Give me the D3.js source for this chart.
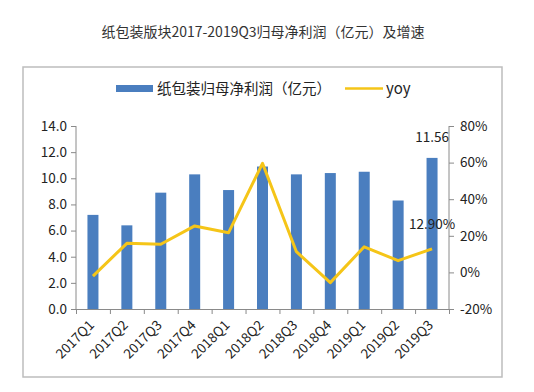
<!DOCTYPE html>
<html><head><meta charset="utf-8">
<script src="https://cdn.jsdelivr.net/npm/d3@7"></script>
<style>
html,body{margin:0;padding:0;background:#fff;}
svg text{font-family:"Noto Sans CJK SC","Open Sans",sans-serif;}
</style></head>
<body>
<svg id="c" width="534" height="392"></svg>
<script>
const categories = ["2017Q1","2017Q2","2017Q3","2017Q4","2018Q1","2018Q2","2018Q3","2018Q4","2019Q1","2019Q2","2019Q3"];
const profit = [7.2, 6.4, 8.9, 10.3, 9.1, 10.9, 10.3, 10.4, 10.5, 8.3, 11.56];
const yoy = [-2, 15.9, 15.4, 25.4, 21.7, 59.6, 11.3, -5.6, 14.0, 6.4, 12.9];
const leftTicks = [0,2,4,6,8,10,12,14];
const rightTicks = [-20,0,20,40,60,80];

const svg = d3.select("#c");
const L = 76, R = 449, T = 126, B = 309;

svg.append("text").attr("x",263).attr("y",37).attr("text-anchor","middle")
  .attr("font-size",14).attr("fill","#333").text("纸包装版块2017-2019Q3归母净利润（亿元）及增速");

svg.append("rect").attr("x",23).attr("y",67).attr("width",479).attr("height",310)
  .attr("fill","none").attr("stroke","#bdbdbd").attr("stroke-width",1.5);

// legend
svg.append("rect").attr("x",116).attr("y",85).attr("width",37).attr("height",7).attr("fill","#4a7ebf");
svg.append("text").attr("x",157).attr("y",94).attr("font-size",14.5).attr("fill","#222").text("纸包装归母净利润（亿元）");
svg.append("line").attr("x1",345).attr("x2",383).attr("y1",88.5).attr("y2",88.5).attr("stroke","#f5c518").attr("stroke-width",2.5);
svg.append("text").attr("x",386).attr("y",94).attr("font-size",15).attr("fill","#222").text("yoy");

const x = d3.scaleBand().domain(categories).range([L,R]);
const yL = d3.scaleLinear().domain([0,14]).range([B,T]);
const yR = d3.scaleLinear().domain([-20,80]).range([B,T]);

const bw = 11;
svg.append("g").selectAll("rect").data(categories).join("rect")
  .attr("x",(d)=>x(d)+x.bandwidth()/2-bw/2)
  .attr("width",bw)
  .attr("y",(d,i)=>yL(profit[i]))
  .attr("height",(d,i)=>B-yL(profit[i]))
  .attr("fill","#4a7ebf");

// axes
const axColor = "#8a8a8a";
const gl = svg.append("g").attr("transform",`translate(${L},0)`)
  .call(d3.axisLeft(yL).tickValues(leftTicks).tickFormat(d3.format(".1f")).tickSize(5).tickPadding(4));
const gr = svg.append("g").attr("transform",`translate(${R},0)`)
  .call(d3.axisRight(yR).tickValues(rightTicks).tickFormat(d=>d+"%").tickSize(5).tickPadding(6));
const bScale = d3.scaleLinear().domain([0,categories.length]).range([L,R]);
const gb = svg.append("g").attr("transform",`translate(0,${B})`)
  .call(d3.axisBottom(bScale).tickValues(d3.range(0,categories.length+1)).tickFormat("").tickSize(5).tickSizeOuter(0));
[gl,gr,gb].forEach(g=>{
  g.select(".domain").attr("stroke",axColor);
  g.selectAll(".tick line").attr("stroke",axColor);
  g.selectAll(".tick text").attr("font-size",13.5).attr("fill","#222");
});
gl.select(".domain").attr("d",`M-0,${T}H0V${B}H-0`);
gr.select(".domain").attr("d",`M0,${T}H0V${B}H0`);

// x labels
svg.append("g").selectAll("text").data(categories).join("text")
  .attr("transform",d=>`translate(${x(d)+x.bandwidth()/2+2},${B+17}) rotate(-45)`)
  .attr("text-anchor","end").attr("font-size",13.5).attr("fill","#222").text(d=>d);

// line
const line = d3.line().x((d,i)=>x(categories[i])+x.bandwidth()/2).y(d=>yR(d));
svg.append("path").datum(yoy).attr("d",line).attr("fill","none")
  .attr("stroke","#f5c518").attr("stroke-width",3).attr("stroke-linejoin","round");

// data labels
const last = categories.length-1;
const cx = x(categories[last])+x.bandwidth()/2;
svg.append("text").attr("x",cx).attr("y",yL(profit[last])-16).attr("text-anchor","middle")
  .attr("font-size",13.5).attr("fill","#222").text(profit[last].toFixed(2));
svg.append("text").attr("x",cx).attr("y",yR(yoy[last])-20).attr("text-anchor","middle")
  .attr("font-size",13.5).attr("fill","#222").text(yoy[last].toFixed(2)+"%");
</script>
</body></html>
